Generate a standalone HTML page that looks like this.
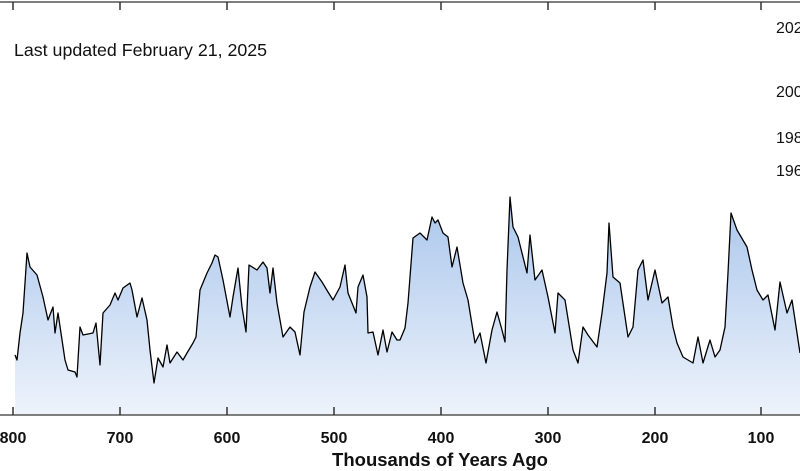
<!DOCTYPE html>
<html><head><meta charset="utf-8"><style>
html,body{margin:0;padding:0;background:#fff;}
svg{display:block;font-family:"Liberation Sans",Arial,sans-serif;}
</style></head><body>
<svg width="800" height="471" viewBox="0 0 800 471" xmlns="http://www.w3.org/2000/svg">
<defs><linearGradient id="g" x1="0" y1="195" x2="0" y2="415" gradientUnits="userSpaceOnUse">
<stop offset="0" stop-color="#a9c6ec"/><stop offset="1" stop-color="#eef3fb"/></linearGradient></defs>
<line x1="0" y1="2" x2="800" y2="2" stroke="#555" stroke-width="1.5"/>
<g stroke="#333" stroke-width="1.5">
<line x1="13" y1="2" x2="13" y2="10"/><line x1="120" y1="2" x2="120" y2="10"/><line x1="227" y1="2" x2="227" y2="10"/><line x1="334" y1="2" x2="334" y2="10"/><line x1="441" y1="2" x2="441" y2="10"/><line x1="548" y1="2" x2="548" y2="10"/><line x1="655" y1="2" x2="655" y2="10"/><line x1="761" y1="2" x2="761" y2="10"/>
</g>
<text x="14" y="56" font-size="17.8" fill="#111">Last updated February 21, 2025</text>
<g font-size="16" fill="#111">
<text x="776" y="33">2020</text><text x="776" y="97">2000</text><text x="776" y="143">1980</text><text x="776" y="176">1960</text>
</g>
<path d="M15,355 L17,360 L20,333 L23,313 L27,253 L30,267 L37,275 L43,297 L48,320 L53,307 L55,333 L58,313 L65,360 L68,370 L75,372 L77,377 L80,327 L83,335 L93,333 L96,323 L100,365 L103,313 L110,305 L115,293 L118,300 L123,288 L130,283 L132,290 L137,317 L142,298 L147,320 L150,350 L154,383 L158,358 L163,367 L167,345 L170,363 L177,352 L183,360 L187,353 L193,343 L196,337 L200,290 L207,273 L212,263 L215,255 L218,257 L223,280 L230,317 L233,297 L238,268 L242,307 L246,332 L249,265 L257,270 L263,262 L267,268 L270,293 L273,268 L277,303 L283,337 L290,327 L295,332 L300,355 L304,312 L310,287 L315,272 L322,282 L328,292 L333,300 L340,287 L345,265 L348,293 L356,313 L358,287 L363,275 L367,297 L368,333 L373,332 L378,355 L383,330 L387,352 L392,332 L397,340 L400,340 L405,328 L408,303 L413,238 L420,233 L427,240 L432,217 L435,223 L438,220 L443,233 L448,237 L452,267 L457,247 L463,283 L468,300 L475,343 L480,333 L486,363 L492,330 L497,312 L502,330 L505,342 L507,270 L510,197 L513,227 L518,237 L527,273 L530,235 L535,280 L542,270 L548,297 L555,333 L558,293 L565,300 L573,350 L578,363 L583,327 L588,335 L597,347 L602,313 L607,273 L609,223 L613,277 L620,283 L628,337 L633,327 L638,270 L643,260 L648,300 L655,270 L662,303 L668,297 L673,327 L677,343 L683,357 L693,363 L698,337 L703,363 L710,340 L715,357 L720,350 L725,327 L728,273 L731,213 L737,230 L747,247 L752,270 L757,290 L763,300 L768,295 L775,330 L780,282 L787,313 L792,300 L797,333 L800,353 L800,415 L15,415 Z" fill="url(#g)"/>
<path d="M15,355 L17,360 L20,333 L23,313 L27,253 L30,267 L37,275 L43,297 L48,320 L53,307 L55,333 L58,313 L65,360 L68,370 L75,372 L77,377 L80,327 L83,335 L93,333 L96,323 L100,365 L103,313 L110,305 L115,293 L118,300 L123,288 L130,283 L132,290 L137,317 L142,298 L147,320 L150,350 L154,383 L158,358 L163,367 L167,345 L170,363 L177,352 L183,360 L187,353 L193,343 L196,337 L200,290 L207,273 L212,263 L215,255 L218,257 L223,280 L230,317 L233,297 L238,268 L242,307 L246,332 L249,265 L257,270 L263,262 L267,268 L270,293 L273,268 L277,303 L283,337 L290,327 L295,332 L300,355 L304,312 L310,287 L315,272 L322,282 L328,292 L333,300 L340,287 L345,265 L348,293 L356,313 L358,287 L363,275 L367,297 L368,333 L373,332 L378,355 L383,330 L387,352 L392,332 L397,340 L400,340 L405,328 L408,303 L413,238 L420,233 L427,240 L432,217 L435,223 L438,220 L443,233 L448,237 L452,267 L457,247 L463,283 L468,300 L475,343 L480,333 L486,363 L492,330 L497,312 L502,330 L505,342 L507,270 L510,197 L513,227 L518,237 L527,273 L530,235 L535,280 L542,270 L548,297 L555,333 L558,293 L565,300 L573,350 L578,363 L583,327 L588,335 L597,347 L602,313 L607,273 L609,223 L613,277 L620,283 L628,337 L633,327 L638,270 L643,260 L648,300 L655,270 L662,303 L668,297 L673,327 L677,343 L683,357 L693,363 L698,337 L703,363 L710,340 L715,357 L720,350 L725,327 L728,273 L731,213 L737,230 L747,247 L752,270 L757,290 L763,300 L768,295 L775,330 L780,282 L787,313 L792,300 L797,333 L800,353" fill="none" stroke="#000" stroke-width="1.3" stroke-linejoin="round"/>
<line x1="0" y1="415" x2="800" y2="415" stroke="#555" stroke-width="1.5"/>
<g stroke="#333" stroke-width="1.5">
<line x1="13" y1="407" x2="13" y2="415"/><line x1="120" y1="407" x2="120" y2="415"/><line x1="227" y1="407" x2="227" y2="415"/><line x1="334" y1="407" x2="334" y2="415"/><line x1="441" y1="407" x2="441" y2="415"/><line x1="548" y1="407" x2="548" y2="415"/><line x1="655" y1="407" x2="655" y2="415"/><line x1="761" y1="407" x2="761" y2="415"/>
</g>
<g font-size="16" font-weight="bold" fill="#111" text-anchor="middle">
<text x="13" y="443">800</text><text x="120" y="443">700</text><text x="227" y="443">600</text><text x="334" y="443">500</text><text x="441" y="443">400</text><text x="548" y="443">300</text><text x="655" y="443">200</text><text x="761" y="443">100</text>
</g>
<text x="440" y="466" font-size="18.5" font-weight="bold" fill="#111" text-anchor="middle">Thousands of Years Ago</text>
</svg>
</body></html>
